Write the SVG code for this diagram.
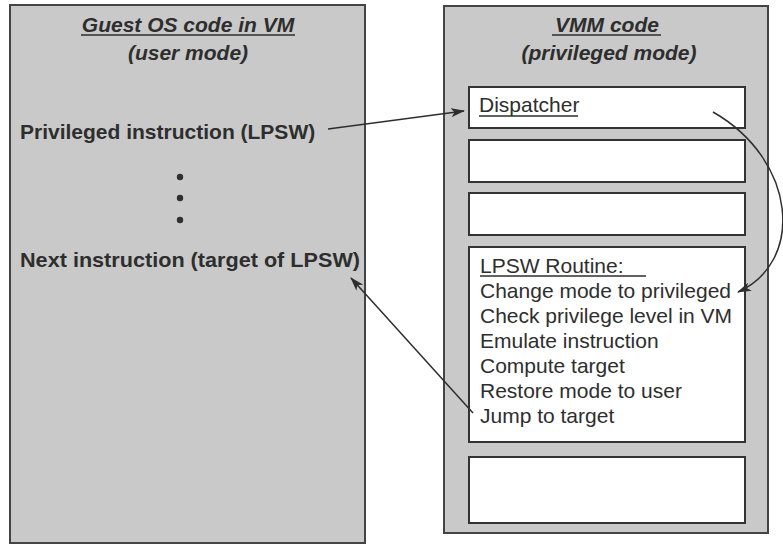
<svg xmlns="http://www.w3.org/2000/svg" width="783" height="545" viewBox="0 0 783 545">
<defs>
<marker id="ah" viewBox="0 0 14 9" refX="13" refY="4.5" markerWidth="14" markerHeight="9" markerUnits="userSpaceOnUse" orient="auto">
<path d="M0,0 L14,4.5 L0,9 L3.5,4.5 Z" fill="#2e2e2e"/>
</marker>
</defs>
<style>
.panel{fill:#c9c9c9;stroke:#444;stroke-width:2}
.box{fill:#ffffff;stroke:#333;stroke-width:2}
.t{font-family:"Liberation Sans",Arial,sans-serif;font-size:21px;fill:#2e2e2e}
.b{font-weight:bold}
.ti{font-weight:bold;font-style:italic;text-anchor:middle}
.u{stroke:#2e2e2e;stroke-width:1.5}
.c{fill:none;stroke:#2e2e2e;stroke-width:1.5}
</style>
<rect width="783" height="545" fill="#ffffff"/>
<g id="guest">
<rect class="panel" x="10" y="5" width="355" height="538"/>
<text class="t ti" x="188" y="32">Guest OS code in VM</text>
<line class="u" x1="81" y1="35" x2="295" y2="35"/>
<text class="t ti" x="188" y="60">(user mode)</text>
<text class="t b" x="20" y="139" font-size="21.5">Privileged instruction (LPSW)</text>
<circle cx="180" cy="177" r="3.2" fill="#2e2e2e"/>
<circle cx="180" cy="198" r="3.2" fill="#2e2e2e"/>
<circle cx="180" cy="220" r="3.2" fill="#2e2e2e"/>
<text class="t b" x="20" y="267" font-size="21.5" textLength="340" lengthAdjust="spacingAndGlyphs">Next instruction (target of LPSW)</text>
</g>
<g id="vmm">
<rect class="panel" x="444" y="6" width="324" height="527"/>
<text class="t ti" x="607" y="32">VMM code</text>
<line class="u" x1="552" y1="35" x2="661" y2="35"/>
<text class="t ti" x="609" y="60">(privileged mode)</text>
</g>
<g id="dispatcher">
<rect class="box" x="469" y="87" width="276" height="41"/>
<text class="t" x="479" y="112">Dispatcher</text>
<line class="u" x1="479" y1="116" x2="578" y2="116"/>
</g>
<g id="box2">
<rect class="box" x="469" y="140" width="276" height="42"/>
</g>
<g id="box3">
<rect class="box" x="469" y="193" width="276" height="42"/>
</g>
<g id="lpsw">
<rect class="box" x="469" y="247" width="276" height="195"/>
<text class="t" x="480" y="273">LPSW Routine:</text>
<line class="u" x1="480" y1="276" x2="646" y2="276"/>
<text class="t" x="480" y="298">Change mode to privileged</text>
<text class="t" x="480" y="323">Check privilege level in VM</text>
<text class="t" x="480" y="348">Emulate instruction</text>
<text class="t" x="480" y="373">Compute target</text>
<text class="t" x="480" y="398">Restore mode to user</text>
<text class="t" x="480" y="423">Jump to target</text>
</g>
<g id="box5">
<rect class="box" x="469" y="457" width="276" height="66"/>
</g>
<g id="connectors">
<line class="c" x1="328" y1="129" x2="464" y2="111" marker-end="url(#ah)"/>
<path class="c" d="M713,112 C797,160 805,262 738,292" marker-end="url(#ah)"/>
<line class="c" x1="473" y1="413" x2="351" y2="278" marker-end="url(#ah)"/>
</g>
</svg>
